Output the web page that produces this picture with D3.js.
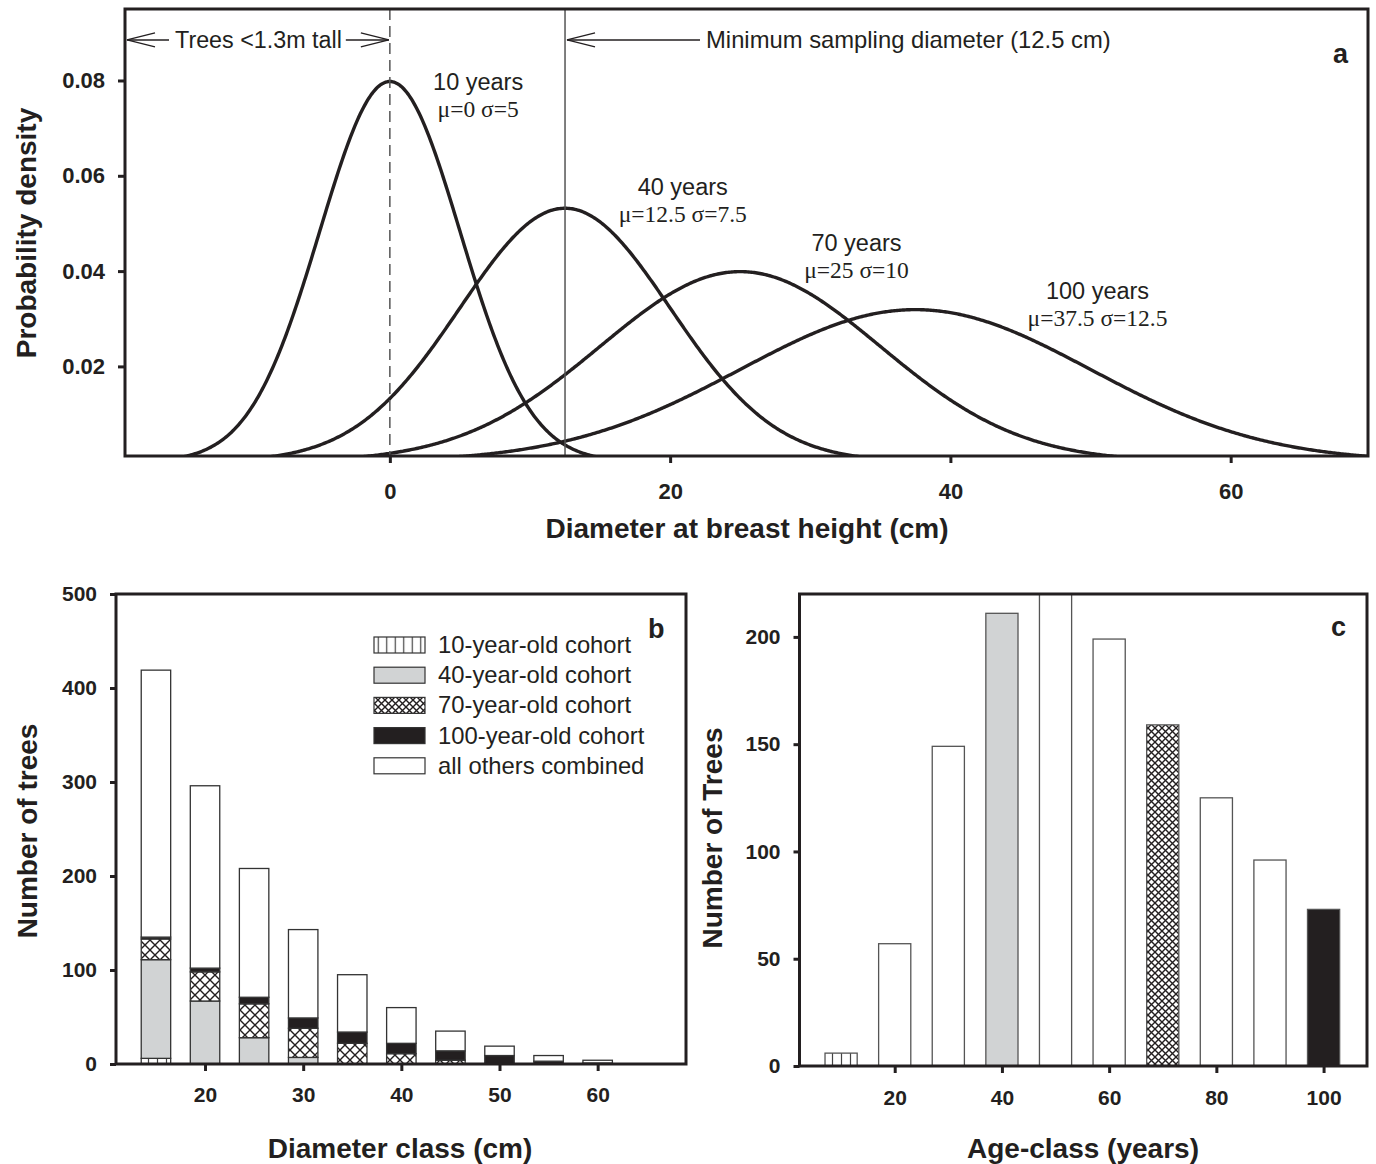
<!DOCTYPE html>
<html>
<head>
<meta charset="utf-8">
<script src="https://cdn.jsdelivr.net/npm/d3@7"></script>
<style>
  html, body { margin: 0; padding: 0; background: #fff; }
  svg { display: block; }
  text { font-family: "Liberation Sans", Arial, Helvetica, sans-serif; fill: #231f20; }
  .serif { font-family: "Liberation Serif", "Times New Roman", serif; }
  .tick text { font-weight: bold; }
</style>
</head>
<body>
<svg id="chart" width="1376" height="1164"></svg>
<script>
// ---------- Panel a data ----------
const cohortLabels = ["10 years", "40 years", "70 years", "100 years"];
const cohortMu = [0, 12.5, 25, 37.5];
const cohortSigma = [5, 7.5, 10, 12.5];
const cohortParamText = ["μ=0 σ=5", "μ=12.5 σ=7.5", "μ=25 σ=10", "μ=37.5 σ=12.5"];
const aXTicks = [0, 20, 40, 60];
const aYTicks = [0.02, 0.04, 0.06, 0.08];

// ---------- Panel b data ----------
const diamClass = [15, 20, 25, 30, 35, 40, 45, 50, 55, 60];
const cohort10 = [6, 0, 0, 0, 0, 0, 0, 0, 0, 0];
const cohort40 = [105, 67, 28, 7, 0, 0, 0, 0, 0, 0];
const cohort70 = [22, 31, 36, 31, 22, 11, 4, 0, 0, 0];
const cohort100 = [2, 4, 7, 11, 12, 11, 10, 9, 3, 1];
const othersCombined = [284, 194, 137, 94, 61, 38, 21, 10, 6, 3];
const legendLabels = ["10-year-old cohort", "40-year-old cohort", "70-year-old cohort", "100-year-old cohort", "all others combined"];
const bXTicks = [20, 30, 40, 50, 60];
const bYTicks = [0, 100, 200, 300, 400, 500];

// ---------- Panel c data ----------
const ageClass = [10, 20, 30, 40, 50, 60, 70, 80, 90, 100];
const ageCount = [6, 57, 149, 211, 232, 199, 159, 125, 96, 73];
const ageFillKey = ["v10", "white", "white", "g40", "white", "white", "x70", "white", "white", "b100"];
const cXTicks = [20, 40, 60, 80, 100];
const cYTicks = [0, 50, 100, 150, 200];

const INK = "#231f20";
const GRAY = "#d1d3d4";

const svg = d3.select("#chart");
const defs = svg.append("defs");

// Patterns
function vPattern(id, step) {
  const p = defs.append("pattern").attr("id", id).attr("patternUnits", "userSpaceOnUse")
    .attr("width", step).attr("height", step);
  p.append("rect").attr("width", step).attr("height", step).attr("fill", "#fff");
  p.append("line").attr("x1", step / 2).attr("x2", step / 2).attr("y1", 0).attr("y2", step)
    .attr("stroke", "#444").attr("stroke-width", 1.2);
}
function xPattern(id, step) {
  const p = defs.append("pattern").attr("id", id).attr("patternUnits", "userSpaceOnUse")
    .attr("width", step).attr("height", step);
  p.append("rect").attr("width", step).attr("height", step).attr("fill", "#fff");
  p.append("path").attr("d", `M0,0L${step},${step}M${step},0L0,${step}`)
    .attr("stroke", INK).attr("stroke-width", 1.4);
}
vPattern("vB", 9);
vPattern("vC", 9);
vPattern("vL", 8.5);
xPattern("xB", 10);
xPattern("xC", 7);
xPattern("xL", 7);

const fills = {
  b: ["url(#vB)", GRAY, "url(#xB)", INK, "#fff"],
  leg: ["url(#vL)", GRAY, "url(#xL)", INK, "#fff"],
  c: { v10: "url(#vC)", g40: GRAY, x70: "url(#xC)", b100: INK, white: "#fff" }
};

function styleAxis(g, size) {
  g.select(".domain").remove();
  g.selectAll(".tick line").attr("stroke", INK).attr("stroke-width", 3);
  g.selectAll(".tick text").attr("font-size", size).attr("fill", INK);
}
function frame(x0, x1, y0, y1) {
  svg.append("rect").attr("x", x0).attr("y", y0).attr("width", x1 - x0).attr("height", y1 - y0)
    .attr("fill", "none").attr("stroke", INK).attr("stroke-width", 3);
}

// ================= Panel a =================
const xA = d3.scaleLinear().domain([-18.9, 69.8]).range([125, 1368]);
const yA = d3.scaleLinear().domain([0.0012, 0.095]).range([456, 9]);

defs.append("clipPath").attr("id", "clipA").append("rect")
  .attr("x", 125).attr("y", 9).attr("width", 1368 - 125).attr("height", 456 - 9);

const gA = svg.append("g");
// curves: normal densities with the parameters printed on the chart
const pdf = (x, mu, s) => Math.exp(-0.5 * ((x - mu) / s) ** 2) / (s * Math.sqrt(2 * Math.PI));
const line = d3.line().x(d => xA(d[0])).y(d => yA(d[1])).curve(d3.curveLinear);
const gCurves = gA.append("g").attr("clip-path", "url(#clipA)");
cohortMu.forEach((mu, i) => {
  const s = cohortSigma[i];
  const pts = d3.range(xA.domain()[0], xA.domain()[1] + 0.01, 0.1).map(x => [x, pdf(x, mu, s)]);
  gCurves.append("path").datum(pts).attr("d", line)
    .attr("fill", "none").attr("stroke", INK).attr("stroke-width", 3.4);
});
// vertical reference lines
gA.append("line").attr("x1", xA(0)).attr("x2", xA(0)).attr("y1", yA.range()[1]).attr("y2", yA.range()[0])
  .attr("stroke", "#555").attr("stroke-width", 1.5).attr("stroke-dasharray", "11,6");
gA.append("line").attr("x1", xA(12.5)).attr("x2", xA(12.5)).attr("y1", yA.range()[1]).attr("y2", yA.range()[0])
  .attr("stroke", "#555").attr("stroke-width", 1.5);

// axes
const axAY = gA.append("g").attr("transform", `translate(125,0)`)
  .call(d3.axisLeft(yA).tickValues(aYTicks).tickFormat(d3.format(".2f")).tickSize(7).tickPadding(13));
styleAxis(axAY, 22);
const axAX = gA.append("g").attr("transform", `translate(0,456)`)
  .call(d3.axisBottom(xA).tickValues(aXTicks).tickSize(7).tickPadding(20));
styleAxis(axAX, 22);
frame(125, 1368, 9, 456);

// arrows
const arrowY = yA(0.0885);
function arrowHead(tipX, dir) {
  gA.append("path")
    .attr("d", `M${tipX + dir * 28},${arrowY - 7}L${tipX},${arrowY}L${tipX + dir * 28},${arrowY + 7}`)
    .attr("fill", "none").attr("stroke", INK).attr("stroke-width", 1.3);
}
const tc = (xA.range()[0] + xA(0)) / 2 + 1;
const treesText = gA.append("text").attr("x", tc).attr("y", arrowY + 8)
  .attr("text-anchor", "middle").attr("font-size", 23.3).text("Trees <1.3m tall");
const tw = treesText.node().getComputedTextLength();
gA.append("line").attr("x1", xA.range()[0] + 2).attr("x2", tc - tw / 2 - 6).attr("y1", arrowY).attr("y2", arrowY)
  .attr("stroke", INK).attr("stroke-width", 1.3);
gA.append("line").attr("x1", tc + tw / 2 + 4).attr("x2", xA(0) - 1).attr("y1", arrowY).attr("y2", arrowY)
  .attr("stroke", INK).attr("stroke-width", 1.3);
arrowHead(xA.range()[0] + 2, 1);
arrowHead(xA(0) - 1, -1);

gA.append("text").attr("x", xA(12.5) + 141).attr("y", arrowY + 8).attr("font-size", 23.8)
  .text("Minimum sampling diameter (12.5 cm)");
gA.append("line").attr("x1", xA(12.5) + 2).attr("x2", xA(12.5) + 135).attr("y1", arrowY).attr("y2", arrowY)
  .attr("stroke", INK).attr("stroke-width", 1.3);
arrowHead(xA(12.5) + 2, 1);

// curve labels (centre x, baseline y in data units)
const labPos = [[6.3, 0.0780], [20.9, 0.0560], [33.3, 0.0442], [50.5, 0.0341]];
cohortLabels.forEach((lab, i) => {
  const cx = xA(labPos[i][0]), by = yA(labPos[i][1]);
  gA.append("text").attr("x", cx).attr("y", by).attr("text-anchor", "middle").attr("font-size", 23.5).text(lab);
  gA.append("text").attr("class", "serif").attr("x", cx).attr("y", by + 27).attr("text-anchor", "middle")
    .attr("font-size", 23.5).text(cohortParamText[i]);
});
gA.append("text").attr("x", 1333).attr("y", 63).attr("font-size", 27).attr("font-weight", "bold").text("a");

gA.append("text").attr("x", 747).attr("y", 538).attr("text-anchor", "middle").attr("font-size", 28)
  .attr("font-weight", "bold").text("Diameter at breast height (cm)");
gA.append("text").attr("transform", "translate(36,233) rotate(-90)").attr("text-anchor", "middle")
  .attr("font-size", 28).attr("font-weight", "bold").text("Probability density");

// ================= Panel b =================
const xB = d3.scaleLinear().domain([10.93, 69.0]).range([116, 686]);
const yB = d3.scaleLinear().domain([0, 500]).range([1064, 594]);
const gB = svg.append("g");
const bSeries = [cohort10, cohort40, cohort70, cohort100, othersCombined];
const barWB = xB(18) - xB(15);
diamClass.forEach((dc, i) => {
  let base = 0;
  bSeries.forEach((ser, k) => {
    const v = ser[i];
    if (v > 0) {
      gB.append("rect").attr("x", xB(dc) - barWB / 2).attr("width", barWB)
        .attr("y", yB(base + v)).attr("height", yB(base) - yB(base + v))
        .attr("fill", fills.b[k]).attr("stroke", "#333").attr("stroke-width", 1.3);
    }
    base += v;
  });
});
const axBY = gB.append("g").attr("transform", `translate(116,0)`)
  .call(d3.axisLeft(yB).tickValues(bYTicks).tickSize(6).tickPadding(13));
styleAxis(axBY, 21);
const axBX = gB.append("g").attr("transform", `translate(0,1064)`)
  .call(d3.axisBottom(xB).tickValues(bXTicks).tickSize(7).tickPadding(16));
styleAxis(axBX, 21);
frame(116, 686, 594, 1064);

// legend
const legY0 = 645, legStep = 30.2;
legendLabels.forEach((lab, k) => {
  const cy = legY0 + k * legStep;
  gB.append("rect").attr("x", 374).attr("y", cy - 8).attr("width", 51).attr("height", 16)
    .attr("fill", fills.leg[k]).attr("stroke", "#333").attr("stroke-width", 1.2);
  gB.append("text").attr("x", 438).attr("y", cy + 8).attr("font-size", 23.8).text(lab);
});
gB.append("text").attr("x", 648).attr("y", 638).attr("font-size", 27).attr("font-weight", "bold").text("b");
gB.append("text").attr("x", 400).attr("y", 1158).attr("text-anchor", "middle").attr("font-size", 28)
  .attr("font-weight", "bold").text("Diameter class (cm)");
gB.append("text").attr("transform", "translate(37,831) rotate(-90)").attr("text-anchor", "middle")
  .attr("font-size", 28).attr("font-weight", "bold").text("Number of trees");

// ================= Panel c =================
const xC = d3.scaleLinear().domain([2.24, 108.1]).range([799.5, 1367]);
const yC = d3.scaleLinear().domain([0, 220]).range([1066, 594]);
const gC = svg.append("g");
defs.append("clipPath").attr("id", "clipC").append("rect")
  .attr("x", 799.5).attr("y", 594).attr("width", 1367 - 799.5).attr("height", 1066 - 594);
const barWC = xC(6) - xC(0);
const gBarsC = gC.append("g").attr("clip-path", "url(#clipC)");
ageClass.forEach((a, i) => {
  gBarsC.append("rect").attr("x", xC(a) - barWC / 2).attr("width", barWC)
    .attr("y", yC(ageCount[i])).attr("height", yC(0) - yC(ageCount[i]))
    .attr("fill", fills.c[ageFillKey[i]]).attr("stroke", "#555").attr("stroke-width", 1.3);
});
const axCY = gC.append("g").attr("transform", `translate(799.5,0)`)
  .call(d3.axisLeft(yC).tickValues(cYTicks).tickSize(6).tickPadding(13));
styleAxis(axCY, 21);
const axCX = gC.append("g").attr("transform", `translate(0,1066)`)
  .call(d3.axisBottom(xC).tickValues(cXTicks).tickSize(7).tickPadding(17));
styleAxis(axCX, 21);
frame(799.5, 1367, 594, 1066);
gC.append("text").attr("x", 1331).attr("y", 636).attr("font-size", 27).attr("font-weight", "bold").text("c");
gC.append("text").attr("x", 1083).attr("y", 1158).attr("text-anchor", "middle").attr("font-size", 28)
  .attr("font-weight", "bold").text("Age-class (years)");
gC.append("text").attr("transform", "translate(722,838) rotate(-90)").attr("text-anchor", "middle")
  .attr("font-size", 28).attr("font-weight", "bold").text("Number of Trees");
</script>
</body>
</html>
